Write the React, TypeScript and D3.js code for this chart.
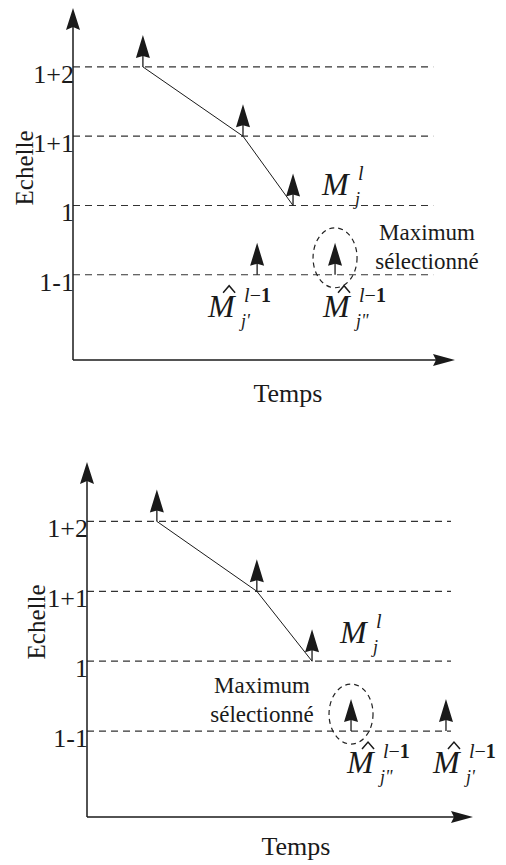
import React from "react";
import * as d3 from "d3";

// ---- data ----
const levelValues = [3, 2, 1, 0];
const levelLabels = ["1+2", "1+1", "1", "1-1"];

// panel 1
const trajTimes1 = [18.3, 44.5, 57.6];
const trajLevels1 = [3, 2, 1];
const candTimes1 = [48.2, 68.6];
const candLevels1 = [0, 0];
const candSubs1 = ["j'", "j\""];
const selected1 = 1;

// panel 2
const trajTimes2 = [18.1, 44.0, 58.3];
const trajLevels2 = [3, 2, 1];
const candTimes2 = [68.4, 93.0];
const candLevels2 = [0, 0];
const candSubs2 = ["j\"", "j'"];
const selected2 = 0;

const timeDomain = [0, 100];
const levelDomain = [-1.23, 3.85];
const dashEndTime = 94.3;

const FONT = "'Liberation Serif', 'Times New Roman', serif";
const INK = "#1a1a1a";

type PanelProps = {
  x0: number; xEnd: number; yBottom: number; yTop: number;
  trajTimes: number[]; trajLevels: number[];
  candTimes: number[]; candLevels: number[]; candSubs: string[]; selected: number;
  candLabelDx: number[];
  mjDx: number; mjDy: number;
  maxX: number; maxY: number;
  tempsX: number; tempsY: number;
  echX: number; echY: number;
};

function Arrow({ x, y }: { x: number; y: number }) {
  return (
    <g>
      <line x1={x} y1={y} x2={x} y2={y - 12} stroke={INK} strokeWidth={1.3} />
      <path d={`M${x},${y - 32} L${x - 7},${y - 9} L${x},${y - 11} L${x + 7},${y - 9} Z`} fill={INK} />
    </g>
  );
}

function MathLabel({ x, y, hat, sup, sub }: { x: number; y: number; hat: boolean; sup: "l" | "l-1"; sub: string }) {
  return (
    <g fill={INK} fontFamily={FONT}>
      <text x={x} y={y} fontStyle="italic" fontSize={32}>M</text>
      {hat && (
        <path d={`M${x + 15},${y - 24} L${x + 21},${y - 31} L${x + 27},${y - 24}`} fill="none" stroke={INK} strokeWidth={1.5} />
      )}
      <text x={x + 36} y={y - 15} fontSize={20}>
        <tspan fontStyle="italic">l</tspan>
        {sup === "l-1" && <tspan>−</tspan>}
        {sup === "l-1" && <tspan fontWeight="bold">1</tspan>}
      </text>
      <text x={x + 33} y={y + 10} fontSize={18} fontStyle="italic">{sub}</text>
    </g>
  );
}

function Panel(p: PanelProps) {
  const x = d3.scaleLinear().domain(timeDomain).range([p.x0, p.xEnd]);
  const y = d3.scaleLinear().domain(levelDomain).range([p.yBottom, p.yTop]);
  const line = d3.line<number>().x((_, i) => x(p.trajTimes[i])).y((_, i) => y(p.trajLevels[i]));
  const sel = p.selected;
  const lastIdx = p.trajTimes.length - 1;
  return (
    <g>
      {levelValues.map((lv, i) => (
        <g key={i}>
          <line x1={p.x0} x2={x(dashEndTime)} y1={y(lv)} y2={y(lv)} stroke="#333" strokeWidth={1.2} strokeDasharray="7,5" />
          <text x={p.x0 + 1} y={y(lv) + 16} textAnchor="end" fontFamily={FONT} fontSize={26} fill={INK}>{levelLabels[i]}</text>
        </g>
      ))}
      <line x1={p.x0} x2={p.x0} y1={p.yBottom} y2={p.yTop + 16} stroke={INK} strokeWidth={1.5} />
      <path d={`M${p.x0},${p.yTop} L${p.x0 - 7},${p.yTop + 22} L${p.x0},${p.yTop + 19} L${p.x0 + 7},${p.yTop + 22} Z`} fill={INK} />
      <line x1={p.x0} x2={p.xEnd - 16} y1={p.yBottom} y2={p.yBottom} stroke={INK} strokeWidth={1.5} />
      <path d={`M${p.xEnd},${p.yBottom} L${p.xEnd - 22},${p.yBottom - 6} L${p.xEnd - 19},${p.yBottom} L${p.xEnd - 22},${p.yBottom + 6} Z`} fill={INK} />
      <path d={line(p.trajTimes) || ""} fill="none" stroke={INK} strokeWidth={1} />
      {p.trajTimes.map((t, i) => (
        <Arrow key={i} x={x(t)} y={y(p.trajLevels[i])} />
      ))}
      <MathLabel x={x(p.trajTimes[lastIdx]) + p.mjDx} y={y(p.trajLevels[lastIdx]) + p.mjDy} hat={false} sup="l" sub="j" />
      {p.candTimes.map((t, i) => (
        <g key={i}>
          <Arrow x={x(t)} y={y(p.candLevels[i])} />
          <MathLabel x={x(t) + p.candLabelDx[i]} y={y(p.candLevels[i]) + 42} hat={true} sup="l-1" sub={p.candSubs[i]} />
        </g>
      ))}
      <ellipse cx={x(p.candTimes[sel])} cy={y(p.candLevels[sel]) - 17} rx={22} ry={30} fill="none" stroke="#222" strokeWidth={1.2} strokeDasharray="5,4" />
      <text x={p.maxX} y={p.maxY} textAnchor="middle" fontFamily={FONT} fontSize={23} fill={INK}>
        <tspan x={p.maxX}>Maximum</tspan>
        <tspan x={p.maxX} dy={29}>sélectionné</tspan>
      </text>
      <text x={p.tempsX} y={p.tempsY} textAnchor="middle" fontFamily={FONT} fontSize={26} fill={INK}>Temps</text>
      <text transform={`translate(${p.echX},${p.echY}) rotate(-90)`} textAnchor="middle" fontFamily={FONT} fontSize={25} fill={INK}>Echelle</text>
    </g>
  );
}

export default function App() {
  return (
    <svg width={506} height={865} style={{ position: "absolute", left: 0, top: 0, background: "#fff" }}>
      <Panel
        x0={73} xEnd={455} yBottom={360} yTop={8}
        trajTimes={trajTimes1} trajLevels={trajLevels1}
        candTimes={candTimes1} candLevels={candLevels1} candSubs={candSubs1} selected={selected1}
        candLabelDx={[-49, -12]}
        mjDx={29} mjDy={-10}
        maxX={427} maxY={240}
        tempsX={288} tempsY={402}
        echX={33} echY={168}
      />
      <Panel
        x0={87} xEnd={473} yBottom={817} yTop={462}
        trajTimes={trajTimes2} trajLevels={trajLevels2}
        candTimes={candTimes2} candLevels={candLevels2} candSubs={candSubs2} selected={selected2}
        candLabelDx={[-4, -13]}
        mjDx={28} mjDy={-18}
        maxX={262} maxY={693}
        tempsX={296} tempsY={855}
        echX={45} echY={622}
      />
    </svg>
  );
}
